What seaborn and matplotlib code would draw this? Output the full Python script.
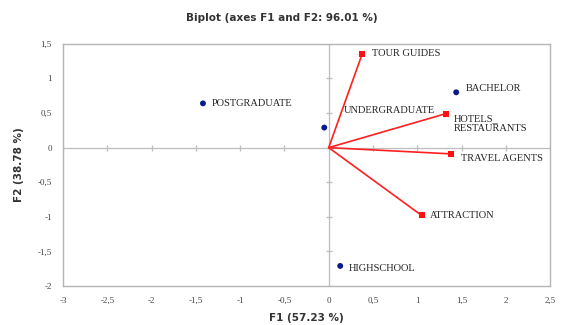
import matplotlib
matplotlib.use("Agg")
import matplotlib.pyplot as plt
import seaborn as sns
import pandas as pd
import numpy as np

# Observations (education level) coordinates on F1 / F2
obs_names = ["POSTGRADUATE", "UNDERGRADUATE", "BACHELOR", "HIGHSCHOOL"]
obs_f1 = [-1.42, -0.05, 1.44, 0.13]
obs_f2 = [0.64, 0.29, 0.80, -1.71]

# Variables (tourism sectors) loadings on F1 / F2
var_names = ["TOUR GUIDES", "HOTELS_\nRESTAURANTS", "TRAVEL AGENTS", "ATTRACTION"]
var_f1 = [0.38, 1.32, 1.38, 1.05]
var_f2 = [1.36, 0.49, -0.09, -0.98]

x_ticks = [-3, -2.5, -2, -1.5, -1, -0.5, 0, 0.5, 1, 1.5, 2, 2.5]
y_ticks = [-2, -1.5, -1, -0.5, 0, 0.5, 1, 1.5]

sns.set_style("white")
plt.rcParams["font.family"] = ["Liberation Serif", "DejaVu Serif"]

fig = plt.figure(figsize=(5.63, 3.25), dpi=100)
ax = fig.add_axes([0.112, 0.12, 0.865, 0.745])

grey = "#bdbdbd"
ax.axhline(0, color=grey, lw=0.9, zorder=1)
ax.axvline(0, color=grey, lw=0.9, zorder=1)
# small ticks along the zero axes
ax.plot(x_ticks, [0] * len(x_ticks), ls="none", marker="|", ms=5, color=grey, mew=0.9, zorder=1)
ax.plot([0] * len(y_ticks), y_ticks, ls="none", marker="_", ms=5, color=grey, mew=0.9, zorder=1)

# variable vectors
for x, y in zip(var_f1, var_f2):
    ax.plot([0, x], [0, y], color="#ff2020", lw=1.2, zorder=2)
ax.scatter(var_f1, var_f2, marker="s", s=14, color="#ff1010", zorder=3, linewidths=0)

# observations
df = pd.DataFrame({"F1": obs_f1, "F2": obs_f2, "name": obs_names})
sns.scatterplot(data=df, x="F1", y="F2", ax=ax, color="#0a1a8c", marker="o",
                s=18, edgecolor="none", zorder=4)

lab_kw = dict(fontsize=7.5, color="#222222", va="center", ha="left")
obs_offsets = {"POSTGRADUATE": (0.1, 0.0), "UNDERGRADUATE": (0.22, 0.24),
               "BACHELOR": (0.11, 0.05), "HIGHSCHOOL": (0.1, -0.03)}
for n, x, y in zip(obs_names, obs_f1, obs_f2):
    dx, dy = obs_offsets[n]
    ax.text(x + dx, y + dy, n, **lab_kw)
var_offsets = {"TOUR GUIDES": (0.11, 0.0), "HOTELS_\nRESTAURANTS": (0.09, -0.14),
               "TRAVEL AGENTS": (0.11, -0.07), "ATTRACTION": (0.09, 0.0)}
for n, x, y in zip(var_names, var_f1, var_f2):
    dx, dy = var_offsets[n]
    ax.text(x + dx, y + dy, n, linespacing=1.05, **lab_kw)

ax.set_xlim(-3, 2.5)
ax.set_ylim(-2, 1.5)
ax.set_xticks(x_ticks)
ax.set_yticks(y_ticks)
fmt = lambda v: ("%g" % v).replace(".", ",")
ax.set_xticklabels([fmt(v) for v in x_ticks], fontsize=6.5, color="#444444")
ax.set_yticklabels([fmt(v) for v in y_ticks], fontsize=6.5, color="#444444")
ax.tick_params(length=0, pad=8)
for s in ax.spines.values():
    s.set_color("#b5b5b5")
    s.set_linewidth(1.0)

ax.set_xlabel("F1 (57.23 %)", fontsize=7.5, fontweight="bold", color="#333333",
              family=["DejaVu Sans"], labelpad=6)
ax.set_ylabel("F2 (38.78 %)", fontsize=7.5, fontweight="bold", color="#333333",
              family=["DejaVu Sans"], labelpad=10)
fig.suptitle("Biplot (axes F1 and F2: 96.01 %)", fontsize=7.5, fontweight="bold",
             color="#333333", family=["DejaVu Sans"], y=0.96)

fig.savefig("out.png", dpi=100)
